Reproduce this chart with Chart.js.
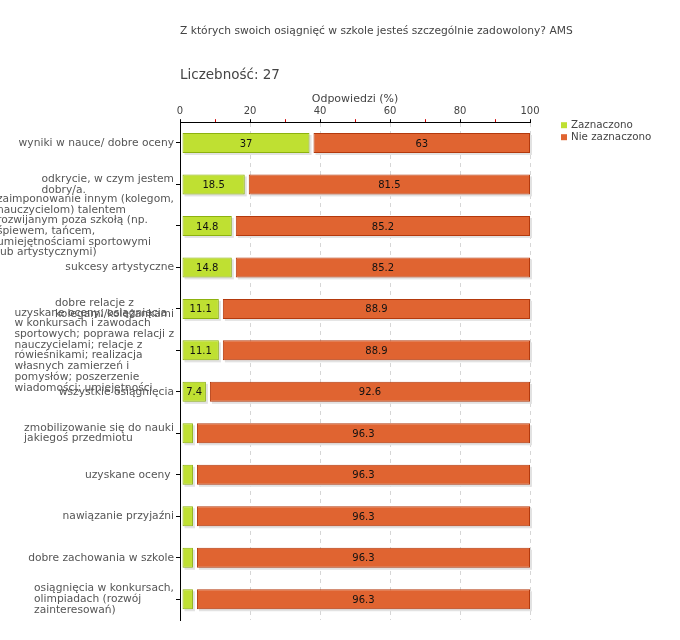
<!DOCTYPE html>
<html>
<head>
<meta charset="utf-8">
<script src="https://cdn.jsdelivr.net/npm/chart.js@4.4.1/dist/chart.umd.min.js"></script>
<style>
  html, body { margin: 0; padding: 0; background: #fff; }
  #wrap { width: 680px; height: 640px; }
</style>
</head>
<body>
<div id="wrap"><canvas id="chart"></canvas></div>
<script>
// labels as they are broken into lines in the original
const categories = [
  ['wyniki w nauce/ dobre oceny'],
  ['odkrycie, w czym jestem', 'dobry/a.'],
  ['zaimponowanie innym (kolegom,', 'nauczycielom) talentem', 'rozwijanym poza szkołą (np.', 'śpiewem, tańcem,', 'umiejętnościami sportowymi', 'lub artystycznymi)'],
  ['sukcesy artystyczne'],
  ['dobre relacje z', 'kolegami/koleżankami'],
  ['uzyskane oceny; osiągnięcia', 'w konkursach i zawodach', 'sportowych; poprawa relacji z', 'nauczycielami; relacje z', 'rówieśnikami; realizacja', 'własnych zamierzeń i', 'pomysłów; poszerzenie', 'wiadomości; umiejętności'],
  ['wszystkie osiągnięcia'],
  ['zmobilizowanie się do nauki', 'jakiegoś przedmiotu'],
  ['uzyskane oceny '],
  ['nawiązanie przyjaźni'],
  ['dobre zachowania w szkole'],
  ['osiągnięcia w konkursach,', 'olimpiadach (rozwój', 'zainteresowań)']
]
const zaznaczono = [37, 18.5, 14.8, 14.8, 11.1, 11.1, 7.4, 3.7, 3.7, 3.7, 3.7, 3.7]
const nieZaznaczono = [63, 81.5, 85.2, 85.2, 88.9, 88.9, 92.6, 96.3, 96.3, 96.3, 96.3, 96.3]
const seriesNames = ['Zaznaczono', 'Nie zaznaczono']
const xTickLabels = [0, 20, 40, 60, 80, 100]

const titleText = 'Z których swoich osiągnięć w szkole jesteś szczególnie zadowolony? AMS'
const countText = 'Liczebność: 27'

const FONT = 'DejaVu Sans'

// small gap between the two parts of each bar
const gapPlugin = {
  id: 'gaps',
  afterDatasetsUpdate(chart) {
    chart.getDatasetMeta(0).data.forEach(el => { el.base += 2 })
    chart.getDatasetMeta(1).data.forEach(el => { el.base += 4 })
  }
}

// light shadow under the bars
const shadowPlugin = {
  id: 'shadows',
  beforeDatasetsDraw(chart) {
    const ctx = chart.ctx
    ctx.save()
    ctx.fillStyle = '#e2e2e2'
    chart.data.datasets.forEach((ds, di) => {
      chart.getDatasetMeta(di).data.forEach(el => {
        const l = Math.min(el.x, el.base), w = Math.abs(el.x - el.base)
        ctx.fillRect(l + 2, el.y - el.height / 2 + 2, w, el.height)
      })
    })
    ctx.restore()
  }
}

const valuePlugin = {
  id: 'values',
  afterDatasetsDraw(chart) {
    const ctx = chart.ctx
    ctx.save()
    ctx.font = '10px "' + FONT + '"'
    ctx.fillStyle = '#111'
    ctx.textAlign = 'center'
    ctx.textBaseline = 'middle'
    chart.data.datasets.forEach((ds, di) => {
      chart.getDatasetMeta(di).data.forEach((el, i) => {
        const w = Math.abs(el.x - el.base)
        if (w < 18) return
        ctx.fillText(String(ds.data[i]), (el.x + el.base) / 2, el.y + 1)
      })
    })
    ctx.restore()
  }
}

// category labels: left aligned block, right edge next to the axis
const catLabelPlugin = {
  id: 'catLabels',
  afterDraw(chart) {
    const ctx = chart.ctx
    const y = chart.scales.y
    const lineH = 10.7
    ctx.save()
    ctx.font = '10.7px "' + FONT + '"'
    ctx.fillStyle = '#555'
    ctx.textAlign = 'left'
    ctx.textBaseline = 'middle'
    categories.forEach((lines, i) => {
      const maxW = Math.max(...lines.map(s => ctx.measureText(s).width))
      const x0 = y.left - 2 - maxW
      const cy = y.getPixelForValue(i)
      const top = cy - (lines.length - 1) * lineH / 2
      lines.forEach((s, k) => ctx.fillText(s, x0, top + k * lineH))
    })
    ctx.restore()
  }
}

// question and sample size above the plot
const headerPlugin = {
  id: 'header',
  afterDraw(chart) {
    const ctx = chart.ctx
    const x = chart.chartArea.left
    ctx.save()
    ctx.fillStyle = '#444'
    ctx.textAlign = 'left'
    ctx.textBaseline = 'middle'
    ctx.font = '10.7px "' + FONT + '"'
    ctx.fillText(titleText, x, 31)
    ctx.font = '13.5px "' + FONT + '"'
    ctx.fillText(countText, x, 75)
    ctx.restore()
  }
}

const legendPlugin = {
  id: 'sideLegend',
  afterDraw(chart) {
    const ctx = chart.ctx
    const x0 = chart.chartArea.right + 31
    const y0 = chart.chartArea.top + 3
    ctx.save()
    ctx.font = '10.3px "' + FONT + '"'
    ctx.textBaseline = 'middle'
    chart.data.datasets.forEach((ds, i) => {
      const cy = y0 + i * 12
      ctx.fillStyle = ds.backgroundColor
      ctx.fillRect(x0, cy - 3, 6, 6)
      ctx.fillStyle = '#444'
      ctx.fillText(ds.label, x0 + 10, cy)
    })
    ctx.restore()
  }
}

new Chart(document.getElementById('chart'), {
  type: 'bar',
  data: {
    labels: categories,
    datasets: [{
      label: seriesNames[0],
      data: zaznaczono,
      backgroundColor: '#bfe032',
      borderColor: '#8db20f',
      borderWidth: 1,
      borderSkipped: false,
      inflateAmount: 0,
      barThickness: 20
    }, {
      label: seriesNames[1],
      data: nieZaznaczono,
      backgroundColor: '#e06431',
      borderColor: '#b3390d',
      borderWidth: 1,
      borderSkipped: false,
      inflateAmount: 0,
      barThickness: 20
    }]
  },
  options: {
    indexAxis: 'y',
    responsive: true,
    maintainAspectRatio: false,
    animation: false,
    layout: { padding: { left: 176, right: 150, top: 89, bottom: 20 } },
    plugins: {
      legend: { display: false },
      tooltip: { enabled: false },
      title: { display: false }
    },
    scales: {
      x: {
        position: 'top',
        stacked: true,
        min: 0,
        max: 100,
        title: {
          display: true,
          text: 'Odpowiedzi (%)',
          color: '#444',
          font: { family: FONT, size: 11 },
          padding: { top: 4, bottom: -3 }
        },
        ticks: {
          stepSize: 10,
          autoSkip: false,
          maxRotation: 0,
          padding: 2,
          color: '#444',
          font: { family: FONT, size: 10 },
          callback: v => xTickLabels.includes(v) ? String(v) : ''
        },
        grid: {
          color: c => (c.tick && c.tick.value > 0 && c.tick.value % 20 === 0) ? '#d6d6d6' : 'rgba(0,0,0,0)',
          tickColor: c => (c.tick && c.tick.value % 20 === 0) ? '#000' : '#d00000',
          tickLength: 3
        },
        border: { color: '#000', width: 1, dash: [4, 4] }
      },
      y: {
        stacked: true,
        ticks: { display: false },
        grid: {
          offset: false,
          drawOnChartArea: false,
          drawTicks: true,
          tickLength: 4,
          color: '#000'
        },
        border: { color: '#000', width: 1 },
        afterFit: s => { s.width = 4 }
      }
    }
  },
  plugins: [gapPlugin, shadowPlugin, valuePlugin, catLabelPlugin, headerPlugin, legendPlugin]
})
</script>
</body>
</html>
